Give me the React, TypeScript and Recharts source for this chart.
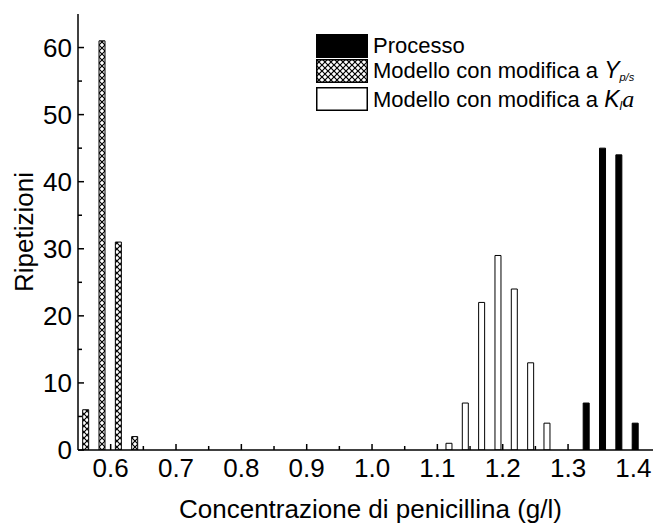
import React from 'react';
import { ComposedChart, Bar, XAxis, YAxis, Label } from 'recharts';

// bin centres (g/l) and counts
const processoX = [1.328, 1.353, 1.378, 1.403];
const processoY = [7, 45, 44, 4];
const ypsX = [0.562, 0.587, 0.612, 0.637];
const ypsY = [6, 61, 31, 2];
const klaX = [1.118, 1.143, 1.168, 1.193, 1.218, 1.243, 1.268];
const klaY = [1, 7, 22, 29, 24, 13, 4];

const xMajor = [0.6, 0.7, 0.8, 0.9, 1.0, 1.1, 1.2, 1.3, 1.4];
const xMinor = [0.65, 0.75, 0.85, 0.95, 1.05, 1.15, 1.25, 1.35];
const yMajor = [0, 10, 20, 30, 40, 50, 60];
const yMinor = [5, 15, 25, 35, 45, 55];

const xTicks = [...xMajor, ...xMinor].sort((a, b) => a - b);
const yTicks = [...yMajor, ...yMinor].sort((a, b) => a - b);

const rows = [
  ...ypsX.map((x, i) => ({ x, yps: ypsY[i] })),
  ...klaX.map((x, i) => ({ x, kla: klaY[i] })),
  ...processoX.map((x, i) => ({ x, processo: processoY[i] })),
].sort((a, b) => a.x - b.x);

const FONT = '"Liberation Sans", Arial, sans-serif';

const BottomTick = ({ x, y, payload }: any) => {
  const major = xMajor.includes(payload.value);
  return (
    <g>
      <line x1={x} y1={y} x2={x} y2={y - (major ? 6 : 4)} stroke="#000" strokeWidth={1.5} />
      {major && (
        <text x={x} y={y + 27} textAnchor="middle" fontSize={26} fontFamily={FONT} fill="#000">
          {payload.value.toFixed(1)}
        </text>
      )}
    </g>
  );
};

const TopTick = ({ x, y, payload }: any) => {
  const major = xMajor.includes(payload.value);
  return <line x1={x} y1={y} x2={x} y2={y + (major ? 6 : 4)} stroke="#000" strokeWidth={1.5} />;
};

const LeftTick = ({ x, y, payload }: any) => {
  const major = yMajor.includes(payload.value);
  return (
    <g>
      <line x1={x} y1={y} x2={x + (major ? 6 : 4)} y2={y} stroke="#000" strokeWidth={1.5} />
      {major && (
        <text x={x - 6} y={y + 9} textAnchor="end" fontSize={26} fontFamily={FONT} fill="#000">
          {payload.value}
        </text>
      )}
    </g>
  );
};

const RightTick = ({ x, y, payload }: any) => {
  const major = yMajor.includes(payload.value);
  return <line x1={x} y1={y} x2={x - (major ? 6 : 4)} y2={y} stroke="#000" strokeWidth={1.5} />;
};

const swatch = (fill: string) => (
  <svg width={52} height={24} style={{ display: 'block', marginRight: 5 }}>
    <rect x={0.75} y={0.75} width={50.5} height={22.5} fill={fill} stroke="#000" strokeWidth={1.5} />
  </svg>
);

const legendRow: React.CSSProperties = {
  position: 'absolute',
  left: 316,
  height: 24,
  display: 'flex',
  alignItems: 'center',
  fontFamily: FONT,
  fontSize: 22,
  lineHeight: '24px',
  color: '#000',
  whiteSpace: 'nowrap',
};

const sub: React.CSSProperties = {
  fontStyle: 'italic',
  lineHeight: 1,
  display: 'inline-block',
  position: 'relative',
  top: 3,
};

export default function App() {
  return (
    <div style={{ position: 'absolute', left: 0, top: 0, width: 655, height: 523, background: '#fff' }}>
      <svg width={0} height={0} style={{ position: 'absolute' }}>
        <defs>
          <pattern id="xhatch" patternUnits="userSpaceOnUse" width={6} height={6}>
            <rect width={6} height={6} fill="#fff" />
            <path d="M-1,-1 L7,7 M7,-1 L-1,7" stroke="#000" strokeWidth={1.2} />
          </pattern>
        </defs>
      </svg>
      <ComposedChart
        width={655}
        height={523}
        data={rows}
        margin={{ top: 14, right: 2, bottom: 0, left: 0 }}
      >
        <XAxis
          dataKey="x"
          type="number"
          domain={[0.55, 1.43]}
          allowDataOverflow
          ticks={xTicks}
          interval={0}
          height={73}
          tickSize={0}
          tickMargin={0}
          tickLine={false}
          tick={<BottomTick />}
          axisLine={{ stroke: '#000', strokeWidth: 1.5 }}
        >
          <Label
            content={({ viewBox }: any) => (
              <text
                x={viewBox.x + viewBox.width / 2 + 5}
                y={518}
                textAnchor="middle"
                fontSize={26}
                fontFamily={FONT}
                fill="#000"
              >
                Concentrazione di penicillina (g/l)
              </text>
            )}
          />
        </XAxis>
        <XAxis
          xAxisId="top"
          orientation="top"
          dataKey="x"
          type="number"
          domain={[0.55, 1.43]}
          allowDataOverflow
          ticks={xTicks}
          interval={0}
          height={0}
          tickSize={0}
          tickMargin={0}
          tickLine={false}
          tick={<TopTick />}
          axisLine={{ stroke: '#000', strokeWidth: 1.5 }}
        />
        <YAxis
          type="number"
          domain={[0, 65]}
          allowDataOverflow
          ticks={yTicks}
          interval={0}
          width={78}
          tickSize={0}
          tickMargin={0}
          tickLine={false}
          tick={<LeftTick />}
          axisLine={{ stroke: '#000', strokeWidth: 1.5 }}
        >
          <Label
            content={({ viewBox }: any) => {
              const cy = viewBox.y + viewBox.height / 2;
              return (
                <text
                  x={33}
                  y={cy}
                  transform={`rotate(-90, 33, ${cy})`}
                  textAnchor="middle"
                  fontSize={26}
                  fontFamily={FONT}
                  fill="#000"
                >
                  Ripetizioni
                </text>
              );
            }}
          />
        </YAxis>
        <YAxis
          yAxisId="right"
          orientation="right"
          type="number"
          domain={[0, 65]}
          allowDataOverflow
          ticks={yTicks}
          interval={0}
          width={0}
          tickSize={0}
          tickMargin={0}
          tickLine={false}
          tick={<RightTick />}
          axisLine={{ stroke: '#000', strokeWidth: 1.5 }}
        />
        <Bar dataKey="yps" stackId="h" barSize={6} fill="url(#xhatch)" stroke="#000" strokeWidth={1} isAnimationActive={false} />
        <Bar dataKey="kla" stackId="h" barSize={6} fill="#fff" stroke="#000" strokeWidth={1} isAnimationActive={false} />
        <Bar dataKey="processo" stackId="h" barSize={6} fill="#000" stroke="#000" strokeWidth={1} isAnimationActive={false} />
      </ComposedChart>

      <div style={{ ...legendRow, top: 34 }}>
        {swatch('#000')}
        <span>Processo</span>
      </div>
      <div style={{ ...legendRow, top: 59 }}>
        {swatch('url(#xhatch)')}
        <span>
          Modello con modifica a <i style={{ fontSize: 23, lineHeight: 1 }}>Y</i>
          <span style={{ ...sub, fontSize: 11 }}>p/s</span>
        </span>
      </div>
      <div style={{ ...legendRow, top: 87 }}>
        {swatch('#fff')}
        <span>
          Modello con modifica a <i style={{ fontSize: 23, lineHeight: 1 }}>K</i>
          <span style={{ ...sub, fontSize: 12 }}>l</span>
          <i style={{ fontSize: 24, lineHeight: 1, fontFamily: '"Liberation Serif", serif' }}>a</i>
        </span>
      </div>
    </div>
  );
}
